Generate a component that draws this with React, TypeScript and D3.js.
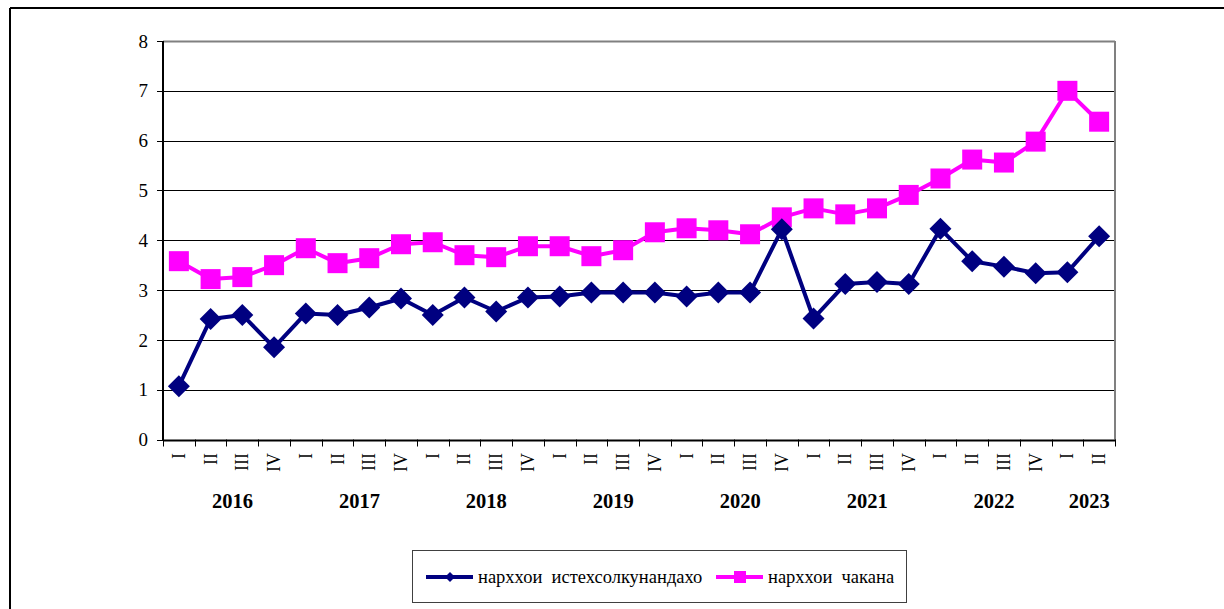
import React from "react";
import * as d3 from "d3";

const years = ["2016", "2017", "2018", "2019", "2020", "2021", "2022", "2023"];
const quarters = ["I", "II", "III", "IV"];
const categories: { year: string; q: string }[] = [];
years.forEach((y) => {
  const qs = y === "2023" ? ["I", "II"] : quarters;
  qs.forEach((q) => categories.push({ year: y, q }));
});

const producerPrices = [
  1.07, 2.42, 2.5, 1.85,
  2.53, 2.5, 2.65, 2.83,
  2.5, 2.85, 2.57, 2.85,
  2.87, 2.95, 2.95, 2.95,
  2.87, 2.95, 2.95, 4.22,
  2.43, 3.12, 3.16, 3.12,
  4.23, 3.58, 3.47, 3.34,
  3.36, 4.08,
];
const retailPrices = [
  3.58, 3.22, 3.26, 3.5,
  3.84, 3.54, 3.64, 3.92,
  3.96, 3.7, 3.66, 3.88,
  3.88, 3.68, 3.8, 4.16,
  4.24, 4.2, 4.12, 4.46,
  4.64, 4.52, 4.64, 4.91,
  5.24, 5.62, 5.56, 5.98,
  7.0, 6.38,
];
const yTicks = [0, 1, 2, 3, 4, 5, 6, 7, 8];
const seriesNames = ["нарххои  истехсолкунандахо", "нарххои  чакана"];

const W = 1224;
const H = 609;
const left = 163;
const right = 1115;
const top = 41;
const bottom = 439.5;
const serif = "'Liberation Serif', 'Times New Roman', serif";
const navy = "#000080";
const magenta = "#FF00FF";

export default function App() {
  const idx = categories.map((_, i) => i);
  const x = d3.scaleBand<number>().domain(idx).range([left, right]).padding(0);
  const y = d3.scaleLinear().domain([0, 8]).range([bottom, top]);
  const cx = (i: number) => (x(i) as number) + x.bandwidth() / 2;

  const line = d3
    .line<number>()
    .x((_, i) => cx(i))
    .y((d) => y(d));

  const yearGroups = years.map((yr) => {
    const ids = idx.filter((i) => categories[i].year === yr);
    const x0 = x(ids[0]) as number;
    const x1 = (x(ids[ids.length - 1]) as number) + x.bandwidth();
    return { yr, mid: (x0 + x1) / 2 + 6 };
  });

  const diamond = (px: number, py: number, r: number) =>
    `M${px},${py - r}L${px + r},${py}L${px},${py + r}L${px - r},${py}Z`;

  return (
    <svg width={W} height={H} style={{ position: "absolute", left: 0, top: 0 }}>
      <rect x={0} y={0} width={W} height={H} fill="#fff" />
      {/* outer frame */}
      <line x1={10} y1={8} x2={W} y2={8} stroke="#000" strokeWidth={2} />
      <line x1={10} y1={8} x2={10} y2={H} stroke="#000" strokeWidth={2} />

      {/* gridlines */}
      {yTicks.map((t) => (
        <line
          key={"g" + t}
          x1={left}
          x2={right}
          y1={Math.round(y(t)) + 0.5}
          y2={Math.round(y(t)) + 0.5}
          stroke={t === 8 ? "#808080" : "#000"}
          strokeWidth={t === 8 ? 2 : 1}
        />
      ))}
      {/* plot right border */}
      <line x1={right} x2={right} y1={top} y2={bottom} stroke="#808080" strokeWidth={2} />
      {/* y axis */}
      <line x1={left} x2={left} y1={top} y2={bottom + 0.5} stroke="#000" strokeWidth={2} />
      {yTicks.map((t) => (
        <g key={"yt" + t}>
          <line x1={left - 6} x2={left} y1={Math.round(y(t)) + 0.5} y2={Math.round(y(t)) + 0.5} stroke="#000" />
          <text
            x={148}
            y={y(t)}
            dy="0.35em"
            textAnchor="end"
            fontFamily={serif}
            fontSize={19}
            fill="#000"
          >
            {t}
          </text>
        </g>
      ))}
      {/* x axis */}
      <line x1={left} x2={right + 1} y1={Math.round(bottom) + 0.5} y2={Math.round(bottom) + 0.5} stroke="#000" strokeWidth={2} />
      {d3.range(categories.length + 1).map((i) => {
        const xx = Math.round(left + i * x.bandwidth()) + 0.5;
        return (
          <line key={"xt" + i} x1={xx} x2={xx} y1={bottom} y2={bottom + 7} stroke="#000" />
        );
      })}
      {categories.map((c, i) => (
        <text
          key={"xl" + i}
          transform={`translate(${cx(i) + 6},453) rotate(-90)`}
          textAnchor="end"
          fontFamily={serif}
          fontSize={18}
          fill="#000"
        >
          {c.q}
        </text>
      ))}
      {yearGroups.map((g) => (
        <text
          key={"yr" + g.yr}
          x={g.mid}
          y={508}
          textAnchor="middle"
          fontFamily={serif}
          fontWeight="bold"
          fontSize={20.5}
          fill="#000"
        >
          {g.yr}
        </text>
      ))}

      {/* series lines */}
      <path d={line(retailPrices) || ""} fill="none" stroke={magenta} strokeWidth={4} strokeLinejoin="round" />
      {retailPrices.map((v, i) => (
        <rect key={"s" + i} x={cx(i) - 10} y={y(v) - 10} width={20} height={20} fill={magenta} />
      ))}
      <path d={line(producerPrices) || ""} fill="none" stroke={navy} strokeWidth={4} strokeLinejoin="round" />
      {producerPrices.map((v, i) => (
        <path key={"d" + i} d={diamond(cx(i), y(v), 11)} fill={navy} />
      ))}

      {/* legend */}
      <rect x={412.5} y={550.5} width={494} height={52} fill="#fff" stroke="#404040" strokeWidth={1} />
      <line x1={426} x2={473} y1={577} y2={577} stroke={navy} strokeWidth={4} />
      <path d={diamond(450, 577, 5)} fill={navy} />
      <text x={478} y={583} fontFamily={serif} fontSize={18.5} fill="#000" style={{ whiteSpace: "pre" }}>
        {seriesNames[0]}
      </text>
      <line x1={716} x2={763} y1={577} y2={577} stroke={magenta} strokeWidth={4} />
      <rect x={734} y={571} width={12} height={12} fill={magenta} />
      <text x={768} y={583} fontFamily={serif} fontSize={18.5} fill="#000" style={{ whiteSpace: "pre" }}>
        {seriesNames[1]}
      </text>
    </svg>
  );
}
